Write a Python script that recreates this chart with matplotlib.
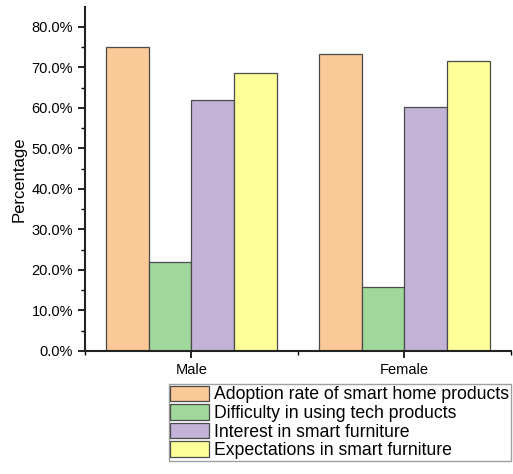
import matplotlib
matplotlib.use("Agg")
import matplotlib.pyplot as plt
import numpy as np
from matplotlib.ticker import MultipleLocator, FuncFormatter

plt.rcParams['font.family'] = ['Liberation Sans', 'DejaVu Sans']

groups = ["Male", "Female"]
series_names = [
    "Adoption rate of smart home products",
    "Difficulty in using tech products",
    "Interest in smart furniture",
    "Expectations in smart furniture",
]
adoption = [75.1, 73.4]
difficulty = [22.0, 15.9]
interest = [62.0, 60.2]
expectations = [68.7, 71.7]
colors = ["#FBC898", "#A0D89C", "#C2B2D6", "#FFFF99"]

series = [adoption, difficulty, interest, expectations]

fig = plt.figure(figsize=(5.13, 4.74), dpi=100)
ax = fig.add_axes([0.1657, 0.2595, 0.8303, 0.7255])

x = np.arange(len(groups))
width = 0.2
offsets = (np.arange(len(series)) - 1.5) * width
handles = []
for vals, off, col, name in zip(series, offsets, colors, series_names):
    h = ax.bar(x + off, vals, width, color=col, edgecolor="#4a4a4a",
               linewidth=0.9, label=name)
    handles.append(h)

ax.set_xlim(-0.5, 1.5)
ax.set_ylim(0, 84.9)
ax.set_xticks(x)
ax.set_xticklabels(groups, fontsize=10.5)
ax.xaxis.set_minor_locator(MultipleLocator(0.5))
ax.yaxis.set_major_locator(MultipleLocator(10))
ax.yaxis.set_minor_locator(MultipleLocator(5))
ax.yaxis.set_major_formatter(FuncFormatter(lambda v, p: f"{v:.1f}%"))
ax.tick_params(axis="y", labelsize=10.5, direction="out", length=5, width=1.2)
ax.tick_params(axis="x", direction="out", length=5, width=1.2)
ax.tick_params(which="minor", length=3, width=1.0)
for s in ["top", "right"]:
    ax.spines[s].set_visible(False)
for s in ["left", "bottom"]:
    ax.spines[s].set_linewidth(1.5)
    ax.spines[s].set_color("#222222")
ax.set_ylabel("Percentage", fontsize=12)

leg = fig.legend(handles=handles, labels=series_names, loc="upper left",
                 bbox_to_anchor=(168.5 / 513, 1 - 384 / 474), fontsize=12.7,
                 frameon=True, fancybox=False, edgecolor="#888888",
                 labelspacing=0.05, handlelength=2.2, handleheight=0.95,
                 handletextpad=0.3, borderpad=0.1, borderaxespad=0)
leg.get_frame().set_linewidth(1.0)

fig.savefig("out.png", dpi=100)
